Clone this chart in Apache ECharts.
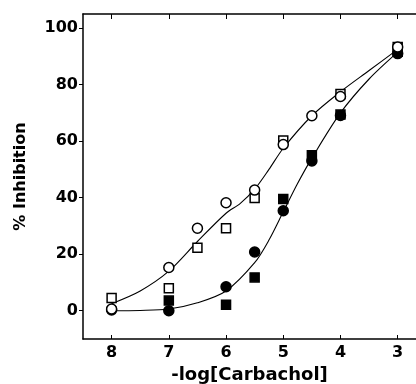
<!DOCTYPE html>
<html>
<head>
<meta charset="utf-8">
<script src="https://cdn.jsdelivr.net/npm/echarts@6/dist/echarts.min.js"></script>
<style>
  html, body { margin: 0; padding: 0; background: #fff; }
  #chart { width: 416px; height: 384px; }
</style>
</head>
<body>
<div id="chart"></div>
<script>
// -log[Carbachol] dose levels and % inhibition for each condition
const doseOpenCircle = [8, 7, 6.5, 6, 5.5, 5, 4.5, 4, 3];
const openCircle     = [0.6, 15.3, 29.2, 38.2, 42.7, 58.8, 69.0, 75.8, 93.3];

const doseOpenSquare = [8, 7, 6.5, 6, 5.5, 5, 4, 3];
const openSquare     = [4.5, 8.0, 22.3, 29.2, 39.9, 60.2, 76.7, 93.3];

const doseFilledCircle = [8, 7, 6, 5.5, 5, 4.5, 4, 3];
const filledCircle     = [0.3, 0.0, 8.5, 20.8, 35.4, 53.0, 69.1, 91.0];

const doseFilledSquare = [7, 6, 5.5, 5, 4.5, 4, 3];
const filledSquare     = [3.6, 2.1, 11.8, 39.5, 55.0, 69.4, 91.6];

// Fitted curves
const doseUpperFit = [8, 7.5, 7, 6.5, 6, 5.75, 5.5, 5.25, 5, 4.5, 4, 3.5, 3];
const upperFit     = [2.5, 7, 14, 24.5, 34.5, 38, 43, 50, 57.5, 69, 77.5, 85, 92.5];

const doseLowerFit = [8, 7.5, 7, 6.5, 6, 5.5, 5.25, 5, 4.75, 4.5, 4, 3.5, 3];
const lowerFit     = [0, 0.1, 0.6, 2.8, 7, 17, 25, 35, 45, 54, 70, 82, 91.5];

const xTicks = [8, 7, 6, 5, 4, 3];
const yTicks = [0, 20, 40, 60, 80, 100];

const pairs = (xs, ys) => xs.map((x, i) => [x, ys[i]]);

const FONT = 'DejaVu Sans';

const chart = echarts.init(document.getElementById('chart'), null, { renderer: 'canvas' });

function markerSeries(name, symbol, size, xs, ys, fill) {
  return {
    name, type: 'scatter', symbol, symbolSize: size,
    data: pairs(xs, ys),
    itemStyle: { color: fill, borderColor: '#000', borderWidth: 1.5, opacity: 1 },
    z: 3, animation: false
  };
}

function fitSeries(name, xs, ys) {
  return {
    name, type: 'line', smooth: 0.3, showSymbol: false, symbol: 'none',
    data: pairs(xs, ys),
    lineStyle: { color: '#000', width: 1.1 },
    z: 2, animation: false
  };
}

chart.setOption({
  backgroundColor: '#fff',
  animation: false,
  grid: { left: 83, top: 14, right: 0, bottom: 45, show: false, outerBoundsMode: 'none', containLabel: false },
  xAxis: [
    {
      type: 'value', inverse: true, min: 2.68, max: 8.5,
      position: 'bottom',
      name: '-log[Carbachol]', nameLocation: 'middle', nameGap: 27,
      nameTextStyle: { fontFamily: FONT, fontWeight: 'bold', fontSize: 18, color: '#000' },
      axisLine: { show: true, onZero: false, lineStyle: { color: '#000', width: 1.5 } },
      axisTick: { show: true, inside: true, length: 4, customValues: xTicks, lineStyle: { color: '#000', width: 1 } },
      axisLabel: { customValues: xTicks, margin: 6, fontFamily: FONT, fontWeight: 'bold', fontSize: 16, color: '#000' },
      splitLine: { show: false }
    },
    {
      type: 'value', inverse: true, min: 2.68, max: 8.5,
      position: 'top',
      axisLine: { show: true, onZero: false, lineStyle: { color: '#000', width: 1.5 } },
      axisTick: { show: true, inside: true, length: 5, customValues: xTicks, lineStyle: { color: '#000', width: 1 } },
      axisLabel: { show: false },
      splitLine: { show: false }
    }
  ],
  yAxis: {
    type: 'value', min: -10, max: 105,
    name: '% Inhibition', nameLocation: 'middle', nameGap: 54, nameRotate: 90,
    nameTextStyle: { fontFamily: FONT, fontWeight: 'bold', fontSize: 16, color: '#000' },
    axisLine: { show: true, onZero: false, lineStyle: { color: '#000', width: 1.5 } },
    axisTick: { show: true, length: 4, customValues: yTicks, lineStyle: { color: '#000', width: 1 } },
    axisLabel: { customValues: yTicks, margin: 5, fontFamily: FONT, fontWeight: 'bold', fontSize: 16, color: '#000' },
    splitLine: { show: false }
  },
  series: [
    fitSeries('upper fit', doseUpperFit, upperFit),
    fitSeries('lower fit', doseLowerFit, lowerFit),
    markerSeries('filled square', 'rect', 9, doseFilledSquare, filledSquare, '#000'),
    markerSeries('filled circle', 'circle', 10, doseFilledCircle, filledCircle, '#000'),
    markerSeries('open square', 'rect', 9, doseOpenSquare, openSquare, '#fff'),
    markerSeries('open circle', 'circle', 10, doseOpenCircle, openCircle, '#fff')
  ]
});
</script>
</body>
</html>
